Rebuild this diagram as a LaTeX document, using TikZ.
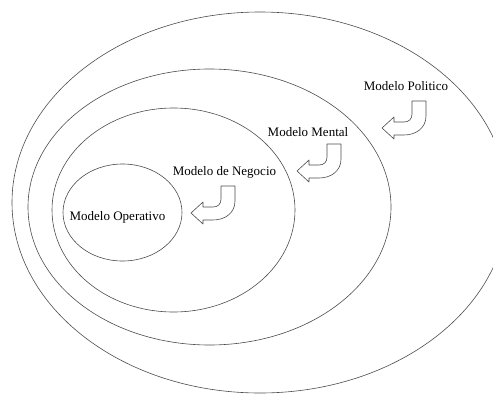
\documentclass[tikz,border=0pt]{standalone}
\usepackage{fontspec}
\setmainfont{Liberation Serif}
\tikzset{
  ring/.style={draw=black!70, line width=.6pt},
  uturn/.pic={\draw[draw=black!70, line width=.6pt, fill=white, line join=round]
    (0,0) -- (12,-11) -- (12,-6) -- (22,-6) .. controls (27,-6) and (30,-9) .. (30,-14)
    -- (30,-27) -- (44,-27) -- (44,-12) .. controls (44,0) and (34,7) .. (22,7)
    -- (12,7) -- (12,11) -- cycle;}
}
\begin{document}
\begin{tikzpicture}[x=1pt, y=-1pt, every node/.style={font=\fontsize{13}{15}\selectfont, anchor=base}]
  \useasboundingbox (0,0) rectangle (493,394);
  \coordinate (Pol) at (260,202.5); \coordinate (Men) at (209.5,207); \coordinate (Neg) at (173.5,210); \coordinate (Ope) at (122.5,212.5);
  \draw[ring] (Pol) ellipse [x radius=248, y radius=190.5];
  \draw[ring] (Men) ellipse [x radius=181.5, y radius=138];
  \draw[ring] (Neg) ellipse [x radius=121.5, y radius=102];
  \draw[ring] (Ope) ellipse [x radius=59.5, y radius=48.5];
  \node (politico) at (406,90.7) {Modelo Politico};
  \node (mental) at (308,136) {Modelo Mental};
  \node (negocio) at (224.5,175.7) {Modelo de Negocio};
  \node (operativo) at (117.5,220.7) {Modelo Operativo};
  \foreach \t in {(382,128),(297,171),(191,213)}
    \pic at \t {uturn};
\end{tikzpicture}
\end{document}
